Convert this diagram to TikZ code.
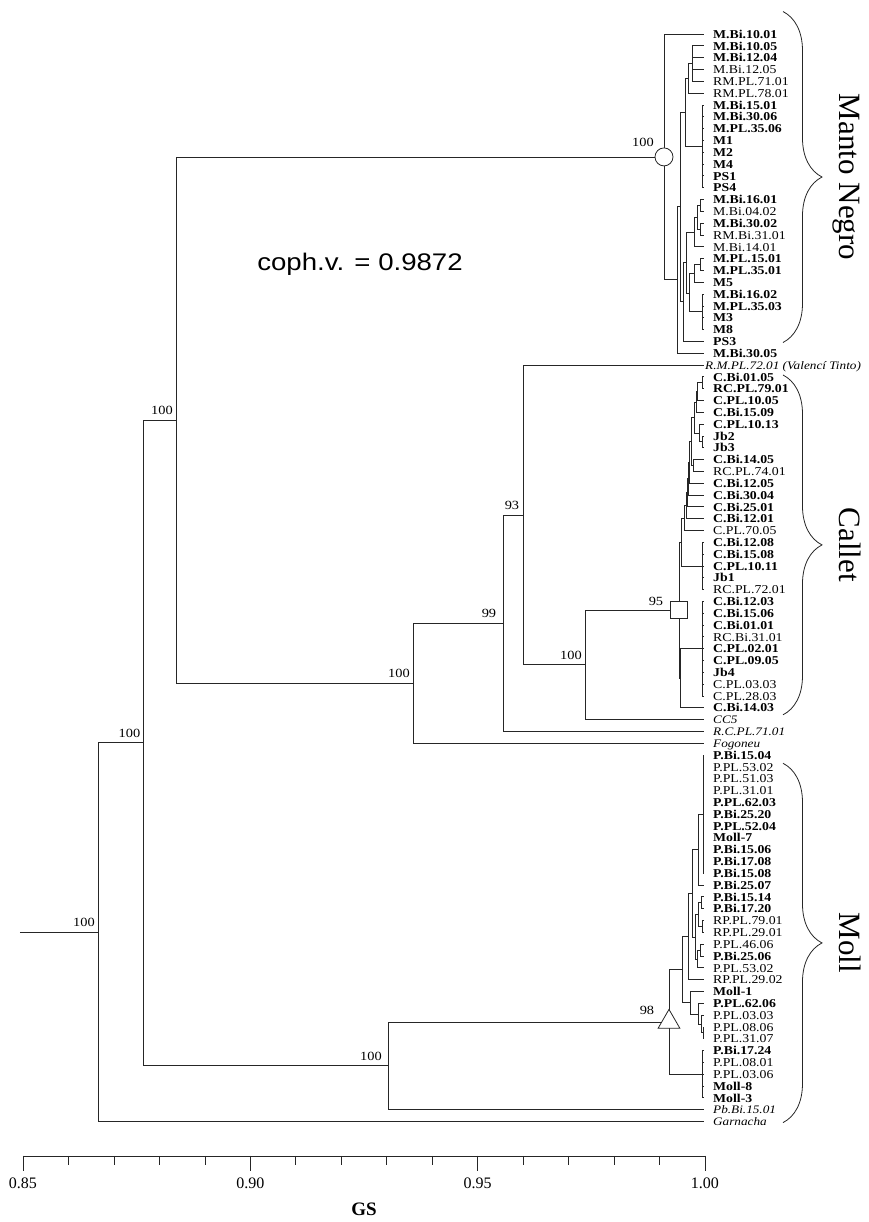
\documentclass[tikz,border=0pt]{standalone}
\usepackage{fontspec}
\setmainfont{Liberation Serif}
\newfontfamily\leaffont[FakeStretch=1.15]{Liberation Serif}
\newfontfamily\cophfont[FakeStretch=1.15]{Liberation Sans}
\usetikzlibrary{decorations.pathreplacing, shapes.geometric}

\begin{document}
\begin{tikzpicture}[
  x=1pt, y=-11.82pt,
  branch/.style={draw=black!85, line width=0.7pt},
  leaf/.style={anchor=west, inner xsep=9pt, inner ysep=0pt, text height=8.5pt, text depth=0pt, font=\leaffont\fontsize{12}{12}\selectfont},
  leafn/.style={leaf},
  leafb/.style={leaf, font=\leaffont\fontsize{12}{12}\selectfont\bfseries},
  leafi/.style={leaf, font=\leaffont\fontsize{11.5}{11.5}\selectfont\itshape},
  leafv/.style={leafi, inner xsep=1pt},
  boot/.style={anchor=south, inner sep=0pt, xshift=-14pt, yshift=5pt, font=\leaffont\fontsize{12.5}{12.5}\selectfont},
  clade/.style={draw=black!85, line width=0.8pt, decorate, decoration={brace, amplitude=39pt}},
  cladename/.style={rotate=-90, anchor=base, font=\fontsize{31}{31}\selectfont},
  cladmark/.style={draw=black!85, line width=0.8pt, fill=white, inner sep=0pt}
]
\useasboundingbox (0,-2.876) rectangle (869,100.51);

% leaves, top to bottom
\foreach \f/\t [count=\k from 0] in {b/M.Bi.10.01, b/M.Bi.10.05, b/M.Bi.12.04, n/M.Bi.12.05, n/RM.PL.71.01, n/RM.PL.78.01, b/M.Bi.15.01, b/M.Bi.30.06, b/M.PL.35.06, b/M1, b/M2, b/M4, b/PS1, b/PS4, b/M.Bi.16.01, n/M.Bi.04.02, b/M.Bi.30.02, n/RM.Bi.31.01, n/M.Bi.14.01, b/M.PL.15.01, b/M.PL.35.01, b/M5, b/M.Bi.16.02, b/M.PL.35.03, b/M3, b/M8, b/PS3, b/M.Bi.30.05, v/{R.M.PL.72.01 (Valencí Tinto)}, b/C.Bi.01.05, b/RC.PL.79.01, b/C.PL.10.05, b/C.Bi.15.09, b/C.PL.10.13, b/Jb2, b/Jb3, b/C.Bi.14.05, n/RC.PL.74.01, b/C.Bi.12.05, b/C.Bi.30.04, b/C.Bi.25.01, b/C.Bi.12.01, n/C.PL.70.05, b/C.Bi.12.08, b/C.Bi.15.08, b/C.PL.10.11, b/Jb1, n/RC.PL.72.01, b/C.Bi.12.03, b/C.Bi.15.06, b/C.Bi.01.01, n/RC.Bi.31.01, b/C.PL.02.01, b/C.PL.09.05, b/Jb4, n/C.PL.03.03, n/C.PL.28.03, b/C.Bi.14.03, i/CC5, i/R.C.PL.71.01, i/Fogoneu, b/P.Bi.15.04, n/P.PL.53.02, n/P.PL.51.03, n/P.PL.31.01, b/P.PL.62.03, b/P.Bi.25.20, b/P.PL.52.04, b/Moll-7, b/P.Bi.15.06, b/P.Bi.17.08, b/P.Bi.15.08, b/P.Bi.25.07, b/P.Bi.15.14, b/P.Bi.17.20, n/RP.PL.79.01, n/RP.PL.29.01, n/P.PL.46.06, b/P.Bi.25.06, n/P.PL.53.02, n/RP.PL.29.02, b/Moll-1, b/P.PL.62.06, n/P.PL.03.03, n/P.PL.08.06, n/P.PL.31.07, b/P.Bi.17.24, n/P.PL.08.01, n/P.PL.03.06, b/Moll-8, b/Moll-3, i/Pb.Bi.15.01, i/Garnacha}
  \node[leaf\f] (l\k) at (704,\k) {\t};

% backbone
\coordinate (origin) at (20,75.99);
\coordinate (root) at (98,75.99);
\coordinate (nA) at (143.5,59.97);
\coordinate (nB) at (176,32.66);
\coordinate (nC) at (413,54.92);
\coordinate (n99) at (503,49.84);
\coordinate (n93) at (523,40.69);
\coordinate (nCal) at (585,53.37);
\coordinate (nMo) at (388,87.29);
\coordinate (mn) at (664,10.4);
\coordinate (cal) at (679,48.74);
\coordinate (mol) at (669,83.58);

\draw[branch] (origin) -- (root);
\draw[branch] (root) |- (nA);
\draw[branch] (root) |- (l92);
\draw[branch] (nA) |- (nB);
\draw[branch] (nA) |- (nMo);
\draw[branch] (nB) |- (mn);
\draw[branch] (nB) |- (nC);
\draw[branch] (nC) |- (n99);
\draw[branch] (nC) |- (l60);
\draw[branch] (n99) |- (n93);
\draw[branch] (n99) |- (l59);
\draw[branch] (n93) |- (l28);
\draw[branch] (n93) |- (nCal);
\draw[branch] (nCal) |- (cal);
\draw[branch] (nCal) |- (l58);
\draw[branch] (nMo) |- (mol);
\draw[branch] (nMo) |- (l91);

% Manto Negro
\coordinate (mA) at (677,20.8);
\coordinate (mB) at (680,14.6);
\coordinate (mC) at (685,6.6);
\coordinate (mD) at (688,3.75);
\coordinate (mD1) at (692,2.5);
\coordinate (mG1) at (702,9.5);
\coordinate (mE) at (683,22.65);
\coordinate (mF) at (686,19.3);
\coordinate (mH) at (694,16.75);
\coordinate (mH1) at (697,15.5);
\coordinate (mb1) at (700,14.5);
\coordinate (mb2) at (700,16.5);
\coordinate (mJ) at (689,21.9);
\coordinate (mJ1) at (694,20.25);
\coordinate (mb3) at (700,19.5);
\coordinate (mG3) at (702,23.5);
\draw[branch] (mn) |- (l0);
\draw[branch] (mn) |- (mA);
\draw[branch] (mA) |- (mB);
\draw[branch] (mA) |- (l27);
\draw[branch] (mB) |- (mC);
\draw[branch] (mB) |- (mE);
\draw[branch] (mC) |- (mD);
\draw[branch] (mC) |- (mG1);
\draw[branch] (mD) |- (mD1);
\draw[branch] (mD) |- (l5);
\draw[branch] (mE) |- (mF);
\draw[branch] (mE) |- (l26);
\draw[branch] (mF) |- (mH);
\draw[branch] (mF) |- (mJ);
\draw[branch] (mH) |- (mH1);
\draw[branch] (mH) |- (l18);
\draw[branch] (mH1) |- (mb1);
\draw[branch] (mH1) |- (mb2);
\draw[branch] (mJ) |- (mJ1);
\draw[branch] (mJ) |- (mG3);
\draw[branch] (mJ1) |- (mb3);
\draw[branch] (mJ1) |- (l21);
\foreach \k in {1,...,4} \draw[branch] (mD1) |- (l\k);
\foreach \k in {6,...,13} \draw[branch] (mG1) |- (l\k);
\foreach \k in {14,15} \draw[branch] (mb1) |- (l\k);
\foreach \k in {16,17} \draw[branch] (mb2) |- (l\k);
\foreach \k in {19,20} \draw[branch] (mb3) |- (l\k);
\foreach \k in {22,...,25} \draw[branch] (mG3) |- (l\k);

% Callet
\coordinate (c1) at (702,29.5);
\coordinate (c2) at (697,30.25);
\coordinate (c3) at (696,31.13);
\coordinate (cj1) at (702,34.5);
\coordinate (cj2) at (699,33.75);
\coordinate (c4) at (694,32.44);
\coordinate (ck1) at (693,36.5);
\coordinate (c5) at (691,34.47);
\coordinate (c6) at (689,36.23);
\coordinate (c7) at (688,37.62);
\coordinate (c8) at (687,38.81);
\coordinate (c9) at (686,39.9);
\coordinate (c10) at (684,40.95);
\coordinate (cG1) at (702,45);
\coordinate (cA) at (681,42.98);
\coordinate (cG2) at (702,52);
\coordinate (cB) at (680,54.5);
\draw[branch] (c1) |- (l29);
\draw[branch] (c1) |- (l30);
\draw[branch] (c2) |- (c1);
\draw[branch] (c2) |- (l31);
\draw[branch] (c3) |- (c2);
\draw[branch] (c3) |- (l32);
\draw[branch] (cj1) |- (l34);
\draw[branch] (cj1) |- (l35);
\draw[branch] (cj2) |- (l33);
\draw[branch] (cj2) |- (cj1);
\draw[branch] (c4) |- (c3);
\draw[branch] (c4) |- (cj2);
\draw[branch] (ck1) |- (l36);
\draw[branch] (ck1) |- (l37);
\draw[branch] (c5) |- (c4);
\draw[branch] (c5) |- (ck1);
\draw[branch] (c6) |- (c5);
\draw[branch] (c6) |- (l38);
\draw[branch] (c7) |- (c6);
\draw[branch] (c7) |- (l39);
\draw[branch] (c8) |- (c7);
\draw[branch] (c8) |- (l40);
\draw[branch] (c9) |- (c8);
\draw[branch] (c9) |- (l41);
\draw[branch] (c10) |- (c9);
\draw[branch] (c10) |- (l42);
\draw[branch] (cA) |- (c10);
\draw[branch] (cA) |- (cG1);
\draw[branch] (cB) |- (cG2);
\draw[branch] (cB) |- (l57);
\draw[branch] (cal) |- (cA);
\draw[branch] (cal) |- (cB);
\foreach \k in {43,...,47} \draw[branch] (cG1) |- (l\k);
\foreach \k in {48,...,56} \draw[branch] (cG2) |- (l\k);

% Moll
\coordinate (moA) at (682,79.15);
\coordinate (moC) at (688,76.35);
\coordinate (moE) at (692,72.7);
\coordinate (moF) at (698,69);
\coordinate (moG4) at (703,66);
\coordinate (moG) at (695,76.4);
\coordinate (mog4) at (698,74.5);
\coordinate (mog1) at (701,73.5);
\coordinate (mog2) at (702,75.5);
\coordinate (mog5) at (697,78.25);
\coordinate (mog3) at (700,77.5);
\coordinate (moD) at (690,81.95);
\coordinate (mod3) at (698,82.9);
\coordinate (mod2) at (701,83.75);
\coordinate (mod1) at (703,84.5);
\coordinate (moG5) at (702,88);
\draw[branch] (mol) |- (moA);
\draw[branch] (mol) |- (moG5);
\draw[branch] (moA) |- (moC);
\draw[branch] (moA) |- (moD);
\draw[branch] (moC) |- (moE);
\draw[branch] (moC) |- (l80);
\draw[branch] (moE) |- (moF);
\draw[branch] (moE) |- (moG);
\draw[branch] (moF) |- (moG4);
\draw[branch] (moF) |- (l72);
\draw[branch] (moG) |- (mog4);
\draw[branch] (moG) |- (mog5);
\draw[branch] (mog4) |- (mog1);
\draw[branch] (mog4) |- (mog2);
\draw[branch] (mog5) |- (mog3);
\draw[branch] (mog5) |- (l79);
\draw[branch] (moD) |- (l81);
\draw[branch] (moD) |- (mod3);
\draw[branch] (mod3) |- (l82);
\draw[branch] (mod3) |- (mod2);
\draw[branch] (mod2) |- (l83);
\draw[branch] (mod2) |- (mod1);
\foreach \k in {84,85} \draw[branch] (mod1) |- (l\k);
\foreach \k in {61,...,71} \draw[branch] (moG4) |- (l\k);
\foreach \k in {73,74} \draw[branch] (mog1) |- (l\k);
\foreach \k in {75,76} \draw[branch] (mog2) |- (l\k);
\foreach \k in {77,78} \draw[branch] (mog3) |- (l\k);
\foreach \k in {86,...,90} \draw[branch] (moG5) |- (l\k);

% clade markers
\node[cladmark, circle, minimum size=18pt] (mnmark) at (mn) {};
\node[cladmark, minimum width=17pt, minimum height=17pt] (calmark) at (cal) {};
\node[cladmark, regular polygon, regular polygon sides=3, minimum size=25pt] (molmark) at (mol) {};

% bootstrap values
\node[boot] (broot) at (root) {100};
\node[boot] (bA) at (nA) {100};
\node[boot] (bB) at (nB) {100};
\node[boot] (bC) at (nC) {100};
\node[boot] (b99) at (n99) {99};
\node[boot, xshift=3pt] (b93) at (n93) {93};
\node[boot] (bCal) at (nCal) {100};
\node[boot, xshift=-3pt] (bMo) at (nMo) {100};
\node[boot, xshift=-7pt, yshift=5pt] (bmn) at (mn) {100};
\node[boot, xshift=-9pt, yshift=-1pt] (bcal) at (cal) {95};
\node[boot, xshift=-8pt, yshift=2pt] (bmol) at (mol) {98};

% clade braces
\draw[clade] (783,-1.9) -- (783,26.1);
\draw[clade] (783,28.85) -- (783,57.6);
\draw[clade] (783,61.7) -- (783,92.1);
\node[cladename] (mnname) at (840,12.1) {Manto Negro};
\node[cladename] (calname) at (840,43.2) {Callet};
\node[cladename] (molname) at (840,76.9) {Moll};

\node[font=\cophfont\fontsize{24}{24}\selectfont] (coph) at (360,19.5) {coph.v. = 0.9872};

% GS axis
\draw[branch] (23,94.92) coordinate (ax0) -- (705,94.92) coordinate (ax1);
\foreach \k in {0,...,15} \draw[branch] (23+\k*45.467,94.92) -- ++(0,-9pt);
\foreach \k/\g in {0/0.85, 5/0.90, 10/0.95, 15/1.00} {
  \draw[branch] (23+\k*45.467,94.92) -- ++(0,-15pt);
  \node[font=\fontsize{16}{16}\selectfont] (t\k) at (23+\k*45.467,97.2) {\g};
}
\node[font=\fontsize{19}{19}\selectfont\bfseries] (gs) at (364,99.4) {GS};
\end{tikzpicture}
\end{document}
